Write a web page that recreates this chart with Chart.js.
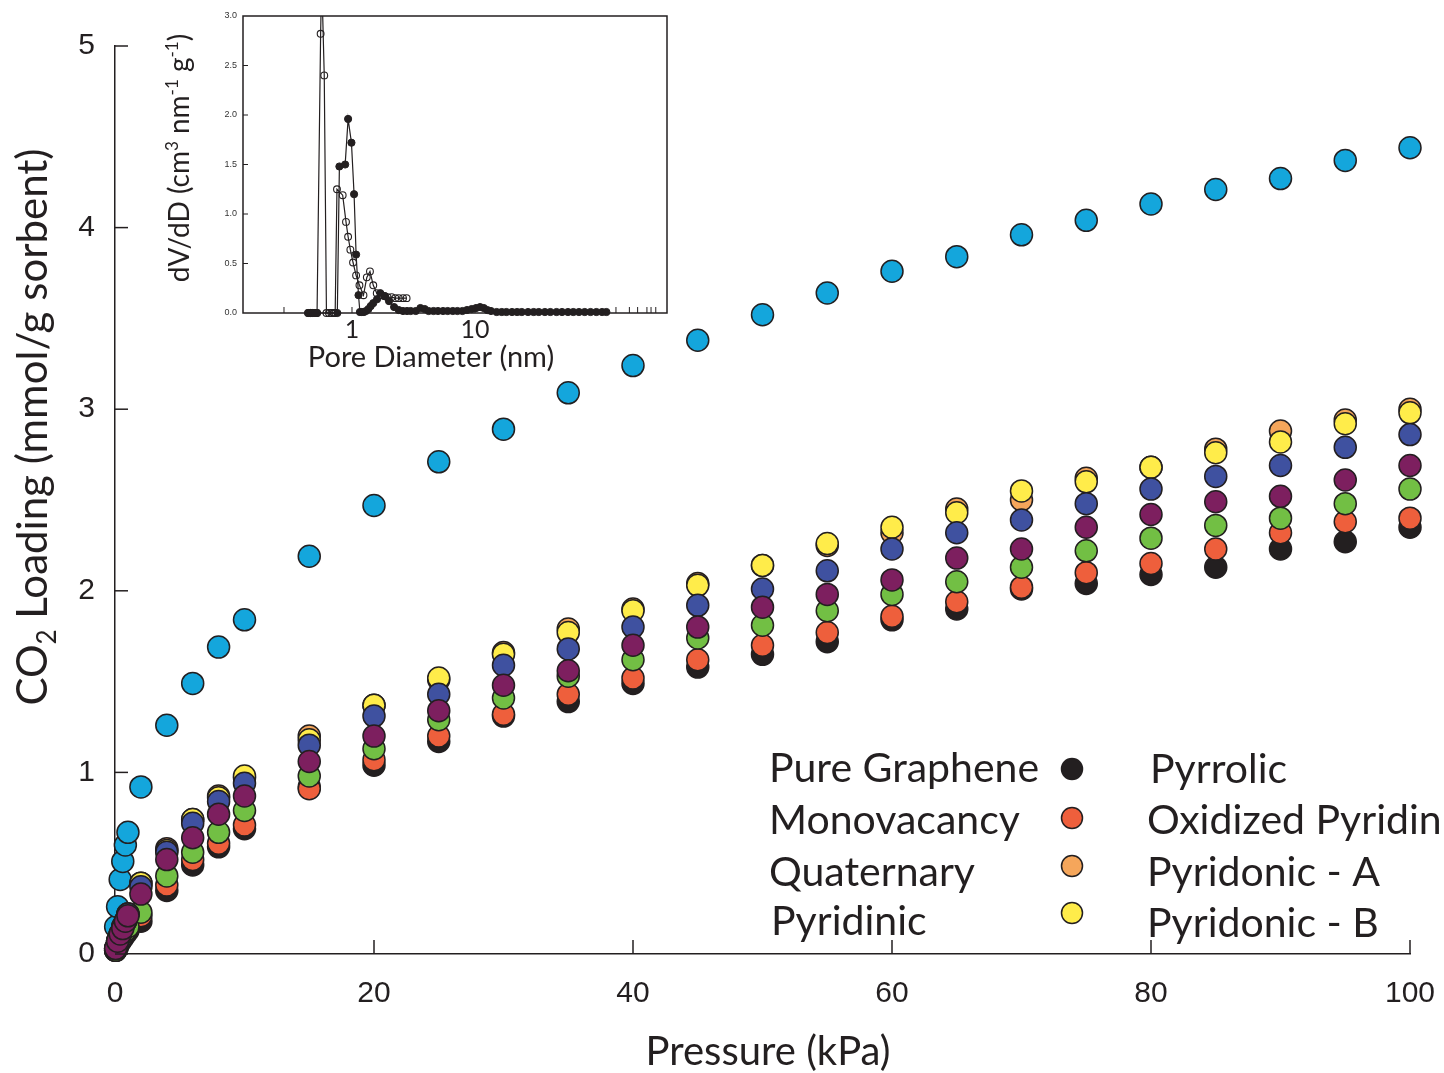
<!DOCTYPE html>
<html>
<head>
<meta charset="utf-8">
<script src="https://cdn.jsdelivr.net/npm/chart.js@4.4.0/dist/chart.umd.min.js"></script>
<style>
html,body{margin:0;padding:0;background:#fff;overflow:hidden}
#wrap{position:relative;width:1444px;height:1073px}
#main{position:absolute;left:0;top:0}
#inset{position:absolute;left:140px;top:0}
</style>
</head>
<body>
<div id="wrap">
<canvas id="main" width="1444" height="1073"></canvas>
<canvas id="inset" width="540" height="380"></canvas>
</div>
<script>
// CO2 isotherms, pressure in kPa
const pressure = [0.05,0.2,0.4,0.6,0.8,1,2,4,6,8,10,15,20,25,30,35,40,45,50,55,60,65,70,75,80,85,90,95,100];
const pureGraphene = [0.02,0.04,0.07,0.09,0.11,0.13,0.18,0.35,0.49,0.59,0.69,0.92,1.04,1.17,1.31,1.39,1.49,1.58,1.65,1.72,1.84,1.90,2.01,2.04,2.09,2.13,2.23,2.27,2.35];
const monovacancy = [0.02,0.05,0.07,0.10,0.12,0.14,0.21,0.38,0.52,0.61,0.71,0.91,1.07,1.20,1.32,1.43,1.52,1.62,1.70,1.77,1.86,1.94,2.02,2.10,2.15,2.23,2.32,2.38,2.40];
const quaternary = [0.03,0.07,0.11,0.15,0.18,0.22,0.39,0.58,0.74,0.87,0.97,1.20,1.37,1.51,1.66,1.79,1.90,2.04,2.14,2.25,2.32,2.45,2.50,2.62,2.68,2.78,2.88,2.94,3.00];
const pyridinic = [0.03,0.07,0.11,0.15,0.18,0.22,0.39,0.57,0.74,0.86,0.98,1.18,1.37,1.52,1.65,1.77,1.89,2.03,2.14,2.26,2.35,2.43,2.55,2.60,2.68,2.76,2.82,2.92,2.98];
const pyrrolic = [0.02,0.05,0.08,0.11,0.13,0.15,0.23,0.43,0.56,0.67,0.79,0.98,1.13,1.29,1.41,1.53,1.62,1.74,1.81,1.89,1.98,2.05,2.13,2.22,2.29,2.36,2.40,2.48,2.56];
const oxidizedPyridinic = [0.03,0.07,0.11,0.14,0.18,0.21,0.33,0.52,0.64,0.77,0.87,1.06,1.20,1.34,1.48,1.56,1.70,1.80,1.91,1.98,2.06,2.18,2.23,2.35,2.42,2.49,2.52,2.61,2.69];
const pyridonicA = [0.03,0.07,0.11,0.15,0.18,0.22,0.37,0.56,0.72,0.84,0.94,1.15,1.31,1.43,1.59,1.68,1.80,1.92,2.01,2.11,2.23,2.32,2.39,2.48,2.56,2.63,2.69,2.79,2.86];
const pyridonicB = [0.15,0.26,0.41,0.51,0.60,0.67,0.92,1.26,1.49,1.69,1.84,2.19,2.47,2.71,2.89,3.09,3.24,3.38,3.52,3.64,3.76,3.84,3.96,4.04,4.13,4.21,4.27,4.37,4.44];

const xTicks = [20,40,60,80,100];
const yTicks = [0,1,2,3,4,5];

const legendLeft = ['Pure Graphene','Monovacancy','Quaternary','Pyridinic'];
const legendRight = ['Pyrrolic','Oxidized Pyridinic','Pyridonic - A','Pyridonic - B'];
const legendColors = ['#231f20','#ee5f3c','#f5a65b','#ffec4a'];

// inset: pore size distribution (log x)
const openD = [0.44,0.46,0.49,0.52,0.556,0.567,0.595,0.62,0.65,0.68,0.71,0.73,0.755,0.84,0.894,0.93,0.97,1.02,1.08,1.15,1.24,1.32,1.40,1.49,1.59,1.74,1.85,1.95,2.1,2.25,2.4,2.6,2.78];
const openV = [0,0,0,0,2.82,3.4,2.40,0,0,0,0,0,1.25,1.19,0.92,0.77,0.64,0.51,0.38,0.28,0.18,0.36,0.42,0.28,0.20,0.18,0.17,0.16,0.16,0.15,0.15,0.15,0.15];
const filledD = [0.44,0.46,0.48,0.50,0.52,0.76,0.79,0.88,0.93,0.99,1.04,1.08,1.13,1.16,1.2,1.25,1.3,1.36,1.42,1.49,1.6,1.7,1.85,2.0,2.2,2.4,2.6,2.8,3.0,3.3,3.6,3.9,4.2,4.6,5.0,5.5,6.0,6.6,7.2,7.9,8.6,9.4,10.2,11.0,11.8,12.6,13.5,15,16.5,18,20,22,24,27,30,33,37,41,46,51,57,63,70,78,87,97,108,117];
const filledV = [0,0,0,0,0,0,1.48,1.50,1.96,1.72,1.20,0.59,0.18,0.01,0.01,0.01,0.02,0.04,0.07,0.10,0.14,0.20,0.17,0.12,0.06,0.03,0.02,0.02,0.02,0.02,0.05,0.04,0.02,0.02,0.02,0.02,0.02,0.02,0.02,0.02,0.03,0.04,0.05,0.06,0.05,0.03,0.02,0.01,0.01,0.01,0.01,0.01,0.01,0.01,0.01,0.01,0.01,0.01,0.01,0.01,0.01,0.01,0.01,0.01,0.01,0.01,0.01,0.01];
const insetYTicks = [0.5,1.0,1.5,2.0,2.5];
const insetXTicks = [0.28,1,10,140,180,210,250,270,295];

const INK = '#231f20';
const pts = (xs, ys) => xs.map((x,i)=>({x:x, y:ys[i]}));

function series(label, ys, color, order){
  return {label:label, data:pts(pressure, ys), backgroundColor:color, borderColor:INK, borderWidth:1.5,
    pointRadius:11, pointHoverRadius:11, order:order, clip:false};
}

// inward ticks, axis titles and legend for main plot
const mainDecor = {
  id:'mainDecor',
  afterDraw(chart){
    const ctx = chart.ctx, xs = chart.scales.x, ys = chart.scales.y, a = chart.chartArea;
    ctx.save();
    ctx.strokeStyle = INK; ctx.lineWidth = 1.5;
    yTicks.forEach(v=>{ const p = ys.getPixelForValue(v); ctx.beginPath(); ctx.moveTo(a.left,p); ctx.lineTo(a.left+13,p); ctx.stroke(); });
    xTicks.forEach(v=>{ const p = xs.getPixelForValue(v); ctx.beginPath(); ctx.moveTo(p,a.bottom); ctx.lineTo(p,a.bottom-14); ctx.stroke(); });
    ctx.fillStyle = INK;
    // x title
    ctx.font = '40px Lato';
    ctx.textAlign = 'center'; ctx.textBaseline = 'alphabetic';
    ctx.fillText('Pressure (kPa)', 768, 1065);
    // y title with subscript
    ctx.translate(47, 427); ctx.rotate(-Math.PI/2);
    const big = '42px Lato', small = '26px Lato';
    ctx.font = big; const w1 = ctx.measureText('CO').width; const w3 = ctx.measureText(' Loading (mmol/g sorbent)').width;
    ctx.font = small; const w2 = ctx.measureText('2').width;
    let x0 = -(w1+w2+w3)/2;
    ctx.textAlign = 'left';
    ctx.font = big; ctx.fillText('CO', x0, 0);
    ctx.font = small; ctx.fillText('2', x0+w1, 9);
    ctx.font = big; ctx.fillText(' Loading (mmol/g sorbent)', x0+w1+w2, 0);
    ctx.restore();
    // legend
    ctx.save();
    ctx.fillStyle = INK; ctx.font = '41px Lato'; ctx.textAlign = 'left'; ctx.textBaseline = 'alphabetic';
    const baseL = [782,834,886,935], baseR = [783,834,886,937], dotY = [769,818,866,913];
    legendLeft.forEach((t,i)=>ctx.fillText(t, i===3?771:769, baseL[i]));
    legendRight.forEach((t,i)=>ctx.fillText(t, i===0?1150:1147, baseR[i]));
    legendColors.forEach((c,i)=>{
      ctx.beginPath(); ctx.arc(1072, dotY[i], 10.5, 0, Math.PI*2);
      ctx.fillStyle = c; ctx.fill(); ctx.lineWidth = 1.5; ctx.strokeStyle = INK; ctx.stroke();
    });
    ctx.restore();
  }
};

new Chart(document.getElementById('main'), {
  type:'scatter',
  data:{datasets:[
    series('Pure Graphene', pureGraphene, '#231f20', 6),
    series('Monovacancy', monovacancy, '#ee5f3c', 5),
    series('Quaternary', quaternary, '#f5a65b', 3),
    series('Pyridinic', pyridinic, '#ffec4a', 2),
    series('Pyrrolic', pyrrolic, '#72bf44', 4),
    series('Oxidized Pyridinic', oxidizedPyridinic, '#7d1f5f', 0),
    series('Pyridonic - A', pyridonicA, '#3f51a0', 1),
    series('Pyridonic - B', pyridonicB, '#14a6dc', 7)
  ]},
  options:{
    responsive:false, animation:false,
    layout:{padding:{left:0,right:34,top:46,bottom:0}},
    plugins:{legend:{display:false}, tooltip:{enabled:false}},
    scales:{
      x:{type:'linear', min:0, max:100,
        afterFit(s){ s.height = 119; s.paddingLeft = 0; s.paddingRight = 0; },
        ticks:{stepSize:20, padding:22, color:INK, font:{family:'Liberation Sans', size:30}},
        grid:{display:false, drawTicks:false},
        border:{display:true, color:INK, width:1.5}},
      y:{type:'linear', min:0, max:5,
        afterFit(s){ s.width = 115; s.paddingTop = 0; s.paddingBottom = 0; },
        ticks:{stepSize:1, padding:20, color:INK, font:{family:'Liberation Sans', size:30}},
        grid:{display:false, drawTicks:false},
        border:{display:true, color:INK, width:1.5}}
    }
  },
  plugins:[mainDecor]
});

// inset frame, ticks and titles
const insetDecor = {
  id:'insetDecor',
  afterDraw(chart){
    const ctx = chart.ctx, xs = chart.scales.x, ys = chart.scales.y, a = chart.chartArea;
    ctx.save();
    ctx.strokeStyle = INK; ctx.lineWidth = 1.5;
    ctx.strokeRect(a.left, a.top, a.right-a.left, a.bottom-a.top);
    ctx.lineWidth = 1;
    insetYTicks.forEach(v=>{ const p = ys.getPixelForValue(v); ctx.beginPath(); ctx.moveTo(a.left,p); ctx.lineTo(a.left+5,p); ctx.stroke(); });
    insetXTicks.forEach(v=>{ const p = xs.getPixelForValue(v); ctx.beginPath(); ctx.moveTo(p,a.bottom); ctx.lineTo(p,a.bottom-6); ctx.stroke(); });
    ctx.fillStyle = INK;
    ctx.font = '29px Lato'; ctx.textAlign = 'center'; ctx.textBaseline = 'alphabetic';
    ctx.fillText('Pore Diameter (nm)', 431-140, 367);
    // rotated y title with superscripts
    ctx.translate(189-140, 158); ctx.rotate(-Math.PI/2);
    const parts = [['dV/dD (cm',0],['3',1],[' nm',0],['-1',1],[' g',0],['-1',1],[')',0]];
    const big = '28px Lato', small = '17px Lato';
    let tot = 0;
    parts.forEach(p=>{ ctx.font = p[1]?small:big; tot += ctx.measureText(p[0]).width; });
    let x0 = -tot/2; ctx.textAlign = 'left';
    parts.forEach(p=>{ ctx.font = p[1]?small:big; ctx.fillText(p[0], x0, p[1]?-11:0); x0 += ctx.measureText(p[0]).width; });
    ctx.restore();
  }
};

new Chart(document.getElementById('inset'), {
  type:'scatter',
  data:{datasets:[
    {label:'filled', data:pts(filledD, filledV), showLine:true, borderColor:INK, borderWidth:1.2,
      backgroundColor:INK, pointBorderColor:INK, pointBackgroundColor:INK, pointRadius:3.6, pointBorderWidth:1,
      clip:{left:8,top:0,right:8,bottom:8}},
    {label:'open', data:pts(openD, openV), showLine:true, borderColor:INK, borderWidth:1.2,
      pointBorderColor:INK, pointBackgroundColor:'rgba(255,255,255,0)', pointRadius:3.4, pointBorderWidth:1.1,
      clip:{left:8,top:0,right:8,bottom:8}}
  ]},
  options:{
    responsive:false, animation:false,
    layout:{padding:{left:0,right:13,top:16,bottom:0}},
    plugins:{legend:{display:false}, tooltip:{enabled:false}},
    scales:{
      x:{type:'logarithmic', min:0.13, max:364,
        afterFit(s){ s.height = 67; s.paddingLeft = 0; s.paddingRight = 0; },
        ticks:{autoSkip:false, maxRotation:0, padding:2, color:INK, font:{family:'Lato', size:25},
          callback:(v)=> (v===1||v===10) ? String(v) : ''},
        grid:{display:false, drawTicks:false},
        border:{display:false}},
      y:{type:'linear', min:0, max:3,
        afterFit(s){ s.width = 103; s.paddingTop = 0; s.paddingBottom = 0; },
        ticks:{stepSize:0.5, padding:6, color:'#333', font:{family:'Liberation Sans', size:9},
          callback:(v)=>Number(v).toFixed(1)},
        grid:{display:false, drawTicks:false},
        border:{display:false}}
    }
  },
  plugins:[insetDecor]
});
</script>
</body>
</html>
